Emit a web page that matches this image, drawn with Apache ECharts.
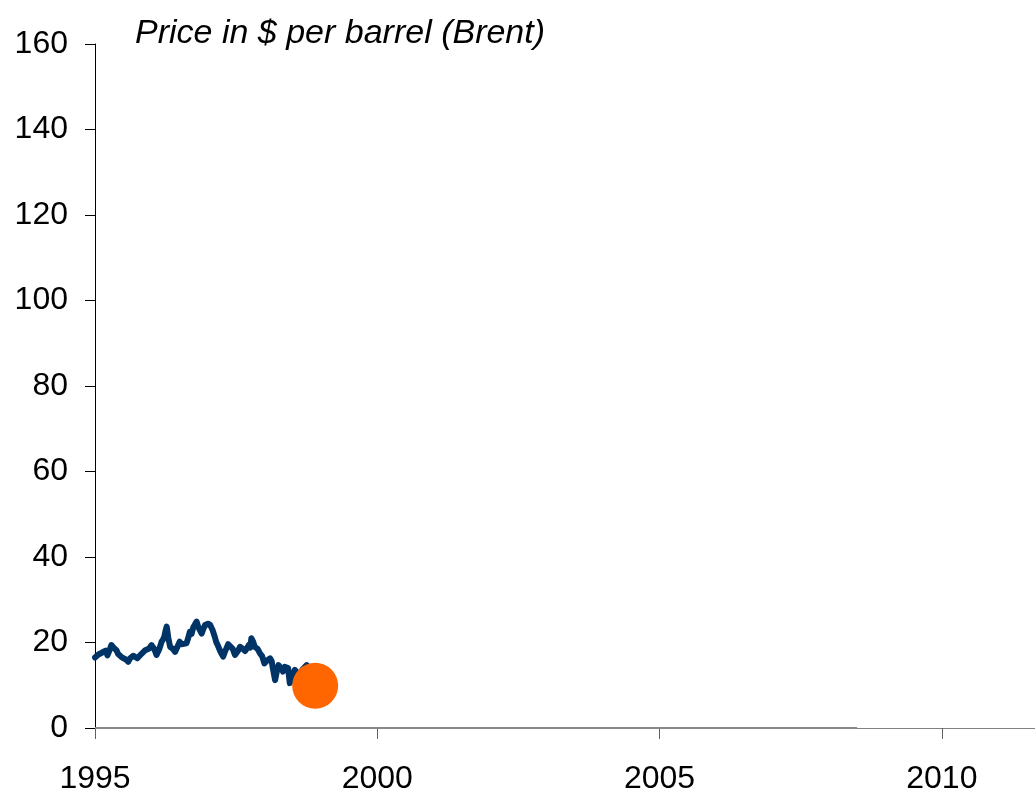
<!DOCTYPE html>
<html>
<head>
<meta charset="utf-8">
<script src="https://cdn.jsdelivr.net/npm/echarts@6/dist/echarts.min.js"></script>
<style>html,body{margin:0;padding:0;background:#fff;}#c{width:1035px;height:794px;}</style>
</head>
<body>
<div id="c"></div>
<script>
// Brent price, decimal year and $ per barrel
const years = [1995.00,1995.03,1995.06,1995.08,1995.12,1995.15,1995.19,1995.22,1995.26,1995.29,1995.33,1995.38,1995.41,1995.44,1995.47,1995.50,1995.55,1995.59,1995.62,1995.65,1995.68,1995.71,1995.75,1995.78,1995.82,1995.85,1995.89,1995.92,1995.96,1996.00,1996.05,1996.09,1996.14,1996.18,1996.21,1996.23,1996.25,1996.27,1996.30,1996.33,1996.38,1996.42,1996.46,1996.50,1996.53,1996.56,1996.62,1996.65,1996.68,1996.71,1996.74,1996.77,1996.80,1996.83,1996.85,1996.89,1996.92,1996.95,1997.00,1997.04,1997.08,1997.12,1997.15,1997.17,1997.21,1997.24,1997.27,1997.30,1997.33,1997.36,1997.39,1997.44,1997.48,1997.53,1997.57,1997.62,1997.66,1997.68,1997.73,1997.75,1997.77,1997.80,1997.83,1997.88,1997.92,1997.96,1998.00,1998.05,1998.10,1998.13,1998.15,1998.19,1998.22,1998.25,1998.29,1998.33,1998.36,1998.38,1998.42,1998.45,1998.48,1998.50,1998.54,1998.58,1998.63,1998.67,1998.70,1998.75];
const prices = [16.5,16.3,17.2,16.8,17.6,17.5,18.1,17.0,18.3,19.4,18.8,18.2,17.3,17.5,16.6,16.3,16.0,15.5,16.3,16.2,16.9,16.7,16.3,16.4,17.3,17.1,18.2,18.0,18.6,19.4,18.5,17.1,18.5,20.2,20.8,21.5,22.8,23.7,21.0,19.0,18.5,17.8,19.0,20.2,19.6,19.5,19.8,21.0,22.5,22.0,23.5,23.8,24.9,23.6,23.5,22.1,23.2,24.1,24.4,24.1,23.0,21.4,20.0,19.5,18.2,17.4,16.7,17.8,18.0,19.6,19.8,18.5,17.1,18.0,19.0,18.5,18.0,18.2,19.5,18.8,21.0,20.2,19.0,18.5,17.5,16.8,15.1,15.8,16.3,15.6,14.0,11.2,13.2,14.7,14.0,13.2,14.3,14.5,14.0,10.5,12.0,12.5,13.6,13.0,12.4,13.6,13.5,14.7];
// latest point highlighted
const dotYear = [1998.9];
const dotPrice = [9.9];
// zero baseline segment
const baseYears = [1995, 2008.5];
const baseValues = [0, 0];
const title = 'Price in $ per barrel (Brent)';

const chart = echarts.init(document.getElementById('c'));
const FONT = '"Liberation Sans", Arial, sans-serif';
chart.setOption({
  animation: false,
  backgroundColor: '#ffffff',
  title: {
    text: title, left: 130, top: 12,
    textStyle: {fontFamily: FONT, fontSize: 34, fontStyle: 'italic', fontWeight: 'normal', color: '#000'}
  },
  grid: {left: 95, top: 44, right: 0, bottom: 66, containLabel: false, outerBoundsMode: 'none'},
  xAxis: {
    type: 'value', min: 1995, max: 2011.65, interval: 5,
    splitLine: {show: false},
    axisLine: {show: true, lineStyle: {color: '#808080', width: 1}},
    axisTick: {show: true, length: 11, lineStyle: {color: '#606060'}},
    axisLabel: {fontFamily: FONT, fontSize: 32, color: '#000', margin: 35, formatter: v => String(v), showMaxLabel: false}
  },
  yAxis: {
    type: 'value', min: 0, max: 160, interval: 20,
    splitLine: {show: false},
    axisLine: {show: true, onZero: false, lineStyle: {color: '#000', width: 1}},
    axisTick: {show: true, length: 10, lineStyle: {color: '#000'}},
    axisLabel: {fontFamily: FONT, fontSize: 32, color: '#000', margin: 27}
  },
  series: [
    {
      type: 'line', data: baseYears.map((y, i) => [y, baseValues[i]]),
      symbol: 'none', lineStyle: {color: '#888888', width: 2}, z: 1
    },
    {
      type: 'line', data: years.map((y, i) => [y, prices[i]]),
      symbol: 'none', lineStyle: {color: '#003366', width: 6, join: 'round', cap: 'round'}, z: 2
    },
    {
      type: 'scatter', data: dotYear.map((y, i) => [y, dotPrice[i]]),
      symbol: 'circle', symbolSize: 46, itemStyle: {color: '#FF6600', opacity: 1}, z: 3
    }
  ]
});
</script>
</body>
</html>
